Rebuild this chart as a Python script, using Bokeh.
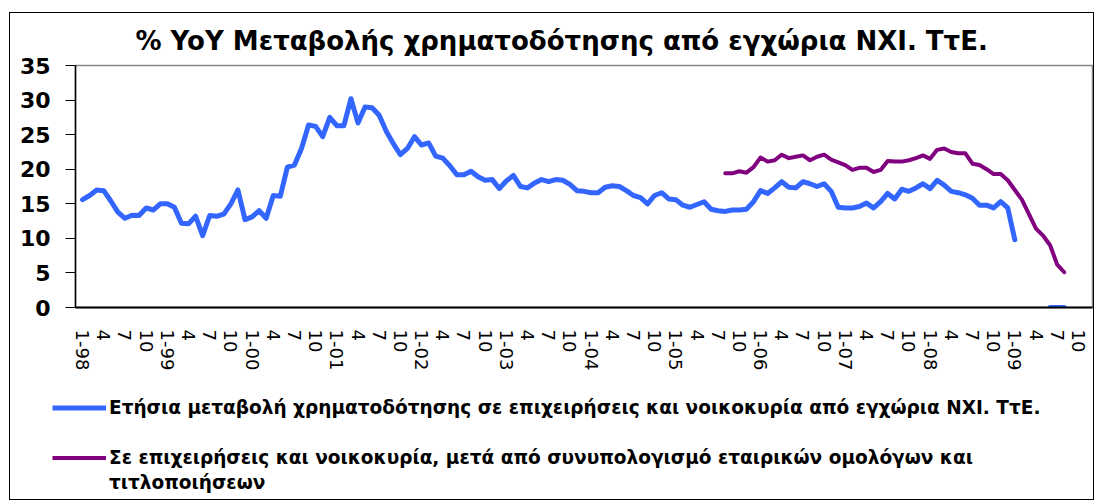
import math
from bokeh.plotting import figure
from bokeh.layouts import column
from bokeh.models import FixedTicker, Legend, LegendItem, Range1d
from bokeh.embed import file_html
from bokeh.resources import INLINE

NAN = float("nan")

# Monthly index 0 = Jan 1998 ... 143 = Dec 2009
tick_positions = [0, 3, 6, 9, 12, 15, 18, 21, 24, 27, 30, 33, 36, 39, 42, 45,
                  48, 51, 54, 57, 60, 63, 66, 69, 72, 75, 78, 81, 84, 87, 90, 93,
                  96, 99, 102, 105, 108, 111, 114, 117, 120, 123, 126, 129,
                  132, 135, 138, 141]
tick_labels = ["1-98", "4", "7", "10", "1-99", "4", "7", "10",
               "1-00", "4", "7", "10", "1-01", "4", "7", "10",
               "1-02", "4", "7", "10", "1-03", "4", "7", "10",
               "1-04", "4", "7", "10", "1-05", "4", "7", "10",
               "1-06", "4", "7", "10", "1-07", "4", "7", "10",
               "1-08", "4", "7", "10", "1-09", "4", "7", "10"]

# Blue series: Jan 1998 .. Aug 2009 (index 0..139)
blue_values = [
    15.6, 16.2, 17.0, 16.9, 15.4, 13.8, 12.9, 13.35, 13.3, 14.4,
    14.1, 15.0, 15.0, 14.5, 12.2, 12.1, 13.2, 10.4, 13.3, 13.2,
    13.5, 15.0, 17.0, 12.7, 13.1, 14.0, 12.9, 16.2, 16.1, 20.3,
    20.6, 23.0, 26.4, 26.2, 24.7, 27.5, 26.3, 26.3, 30.2, 26.7,
    29.0, 28.9, 27.8, 25.5, 23.7, 22.1, 23.0, 24.7, 23.5, 23.8,
    21.9, 21.6, 20.5, 19.2, 19.2, 19.7, 18.9, 18.4, 18.5, 17.2,
    18.3, 19.1, 17.5, 17.3, 18.0, 18.5, 18.2, 18.5, 18.4, 17.8,
    16.9, 16.8, 16.6, 16.6, 17.4, 17.6, 17.5, 16.9, 16.2, 15.9,
    15.0, 16.2, 16.6, 15.7, 15.6, 14.8, 14.5, 14.9, 15.3, 14.2,
    14.0, 13.9, 14.1, 14.1, 14.2, 15.3, 16.9, 16.5, 17.3, 18.2,
    17.4, 17.3, 18.2, 17.9, 17.5, 17.9, 16.8, 14.5, 14.4, 14.4,
    14.6, 15.1, 14.4, 15.3, 16.5, 15.7, 17.1, 16.8, 17.3, 17.9,
    17.2, 18.4, 17.7, 16.8, 16.6, 16.3, 15.8, 14.8, 14.8, 14.4,
    15.3, 14.4, 9.8, NAN, NAN, NAN, NAN, 0.0, 0.0, 0.0,
]
blue_months = list(range(len(blue_values)))

# Purple series: Aug 2005 .. Aug 2009 (index 91..139)
purple_start = 91
purple_values = [
    19.4, 19.4, 19.7, 19.5, 20.3, 21.7, 21.1, 21.3, 22.1, 21.6,
    21.8, 22.0, 21.3, 21.8, 22.1, 21.4, 21.0, 20.6, 19.9, 20.2,
    20.2, 19.6, 19.9, 21.2, 21.1, 21.1, 21.3, 21.6, 22.0, 21.5,
    22.8, 23.0, 22.5, 22.3, 22.3, 20.8, 20.6, 20.0, 19.3, 19.3,
    18.4, 17.0, 15.6, 13.5, 11.4, 10.4, 9.0, 6.2, 5.1,
]
purple_months = list(range(purple_start, purple_start + len(purple_values)))

title_text = "% YoY Μεταβολής χρηματοδότησης από εγχώρια ΝΧΙ. ΤτΕ."
label_blue = "Ετήσια μεταβολή χρηματοδότησης σε επιχειρήσεις και νοικοκυρία από εγχώρια ΝΧΙ. ΤτΕ."
label_purple_1 = "Σε επιχειρήσεις και νοικοκυρία, μετά από συνυπολογισμό εταιρικών ομολόγων και"
label_purple_2 = "τιτλοποιήσεων"

BLUE = "#3366FF"
PURPLE = "#800080"
FONT = "DejaVu Sans"

W = 1083
H_MAIN = 364
H_LEG = 122

p = figure(width=W, height=H_MAIN, output_backend="svg", toolbar_location=None,
           x_range=Range1d(-1.0, 143.0), y_range=Range1d(0, 35),
           min_border_left=65, min_border_right=1, min_border_top=48,
           min_border_bottom=70)

p.title.text = title_text
p.title.align = "left"
p.title.offset = 60
p.title.text_font = FONT
p.title.text_font_style = "bold"
p.title.text_font_size = "26px"
p.title.text_color = "black"
p.title.standoff = 20

p.xgrid.visible = False
p.ygrid.visible = False
p.outline_line_color = "#888888"
p.outline_line_width = 1.5
p.background_fill_color = "white"
p.border_fill_color = "white"

p.line(blue_months, blue_values, line_color=BLUE, line_width=5,
       line_join="round", line_cap="round")
p.line(purple_months, purple_values, line_color=PURPLE, line_width=4,
       line_join="round", line_cap="round")

# Y axis
yax = p.yaxis[0]
yax.ticker = FixedTicker(ticks=[0, 5, 10, 15, 20, 25, 30, 35])
yax.major_label_text_font = FONT
yax.major_label_text_font_style = "bold"
yax.major_label_text_font_size = "22px"
yax.major_label_text_color = "black"
yax.axis_line_color = "black"
yax.axis_line_width = 1.5
yax.major_tick_out = 10
yax.major_tick_in = 0
yax.major_tick_line_color = "black"
yax.minor_tick_line_color = None
yax.major_label_standoff = 15

# X axis
xax = p.xaxis[0]
xax.ticker = FixedTicker(ticks=tick_positions)
xax.major_label_overrides = {pos: lab for pos, lab in zip(tick_positions, tick_labels)}
xax.major_label_orientation = -math.pi / 2
xax.major_label_text_font = FONT
xax.major_label_text_font_size = "18px"
xax.major_label_text_color = "black"
xax.axis_line_color = "black"
xax.axis_line_width = 2
xax.major_tick_out = 0
xax.major_tick_in = 0
xax.minor_tick_line_color = None
xax.major_label_standoff = 22

# Legend panel (separate figure below the chart; its series lie outside its view)
q = figure(width=W, height=H_LEG, output_backend="svg", toolbar_location=None,
           x_range=Range1d(-1.0, 143.0), y_range=Range1d(100, 101),
           x_axis_type=None, y_axis_type=None,
           min_border=0, min_border_left=0, min_border_right=0,
           min_border_top=0, min_border_bottom=0)
q.xgrid.visible = False
q.ygrid.visible = False
q.outline_line_color = None
q.background_fill_color = "white"
q.border_fill_color = "white"

for fig in (p, q):
    try:
        fig.frame_align = False
    except Exception:
        pass

lb = q.line(blue_months, blue_values, line_color=BLUE, line_width=5)
lp = q.line(purple_months, purple_values, line_color=PURPLE, line_width=4)
ld = q.line(purple_months, purple_values, line_alpha=0)

legend = Legend(items=[LegendItem(label=label_blue, renderers=[lb]),
                       LegendItem(label=" ", renderers=[ld]),
                       LegendItem(label=label_purple_1, renderers=[lp]),
                       LegendItem(label=label_purple_2, renderers=[ld])],
                location=(42, 4))
legend.label_text_font = FONT
legend.label_text_font_style = "bold"
legend.label_text_font_size = "18.5px"
legend.label_text_color = "black"
legend.glyph_width = 54
legend.glyph_height = 25
legend.label_height = 25
legend.label_standoff = 3
legend.padding = 0
legend.spacing = 0
legend.margin = 0
legend.border_line_color = None
legend.background_fill_alpha = 0
q.add_layout(legend, "center")

layout = column(p, q, spacing=0)
layout.styles = {"border": "1px solid black", "margin-left": "9px", "margin-top": "12px"}

open("out.html", "w").write(file_html(layout, INLINE))
